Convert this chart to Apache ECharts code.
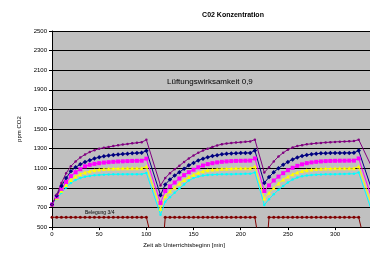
<!DOCTYPE html>
<html>
<head>
<meta charset="utf-8">
<script src="https://cdn.jsdelivr.net/npm/echarts@6/dist/echarts.min.js"></script>
<style>
  html, body { margin: 0; padding: 0; background: #fff; }
  #chart { width: 370px; height: 253px; }
</style>
</head>
<body>
<div id="chart"></div>
<script>
// Zeitpunkte [min] – Unterricht, Pause, Unterricht ...
const times = [
  0, 5, 10, 15, 20, 25, 30, 35, 40, 45, 50, 55, 60, 65, 70, 75, 80, 85, 90, 95, 100,
  115,
  120, 125, 130, 135, 140, 145, 150, 155, 160, 165, 170, 175, 180, 185, 190, 195, 200, 205, 210, 215,
  225,
  230, 235, 240, 245, 250, 255, 260, 265, 270, 275, 280, 285, 290, 295, 300, 305, 310, 315, 320, 325,
  340
];
const purpleVals = [
  730, 830, 950, 1050, 1120, 1170, 1210, 1240, 1265, 1285, 1300, 1310, 1318, 1326, 1334, 1342, 1348, 1354, 1360, 1366, 1390,
  925,
  1000, 1050, 1090, 1125, 1165, 1200, 1230, 1258, 1280, 1300, 1318, 1333, 1345, 1352, 1358, 1362, 1366, 1370, 1374, 1392,
  1057,
  1110, 1170, 1220, 1258, 1290, 1312, 1326, 1336, 1344, 1350, 1355, 1359, 1363, 1366, 1369, 1371, 1373, 1375, 1377, 1392,
  1090
];
const navyVals = [
  730, 820, 920, 1000, 1070, 1110, 1140, 1165, 1182, 1200, 1212, 1222, 1230, 1236, 1241, 1245, 1249, 1252, 1255, 1258, 1278,
  825,
  935, 985, 1025, 1060, 1095, 1130, 1155, 1180, 1198, 1212, 1224, 1234, 1242, 1248, 1251, 1253, 1255, 1256, 1257, 1280,
  950,
  1010, 1060, 1100, 1135, 1165, 1190, 1210, 1225, 1236, 1244, 1249, 1252, 1254, 1255, 1256, 1256, 1257, 1257, 1258, 1280,
  850
];
const magentaVals = [
  730, 810, 890, 960, 1020, 1060, 1090, 1120, 1135, 1145, 1152, 1158, 1162, 1166, 1169, 1171, 1173, 1175, 1176, 1177, 1198,
  746,
  868, 915, 955, 995, 1030, 1060, 1085, 1110, 1128, 1142, 1152, 1160, 1166, 1170, 1173, 1175, 1176, 1177, 1178, 1200,
  868,
  925, 975, 1015, 1050, 1080, 1105, 1125, 1140, 1152, 1160, 1166, 1170, 1173, 1175, 1176, 1177, 1177, 1178, 1178, 1200,
  760
];
const yellowVals = [
  730, 800, 870, 930, 980, 1015, 1040, 1058, 1070, 1080, 1087, 1092, 1095, 1097, 1098, 1099, 1100, 1100, 1100, 1100, 1117,
  686,
  818, 865, 905, 945, 980, 1010, 1035, 1055, 1070, 1080, 1087, 1091, 1094, 1096, 1098, 1099, 1100, 1100, 1100, 1117,
  792,
  850, 900, 945, 985, 1015, 1040, 1058, 1072, 1081, 1088, 1092, 1095, 1097, 1098, 1099, 1100, 1100, 1100, 1100, 1117,
  690
];
const cyanVals = [
  730, 790, 850, 905, 950, 980, 1000, 1013, 1022, 1028, 1032, 1035, 1037, 1038, 1039, 1040, 1040, 1040, 1040, 1040, 1052,
  627,
  759, 805, 850, 893, 935, 975, 1000, 1015, 1025, 1031, 1035, 1037, 1039, 1040, 1040, 1041, 1042, 1043, 1044, 1057,
  726,
  785, 835, 880, 920, 955, 985, 1005, 1018, 1026, 1031, 1035, 1037, 1039, 1040, 1040, 1041, 1042, 1043, 1044, 1057,
  630
];
// Belegung: 600 = Klasse anwesend, 0 = Pause
const occupancyVals = [
  600, 600, 600, 600, 600, 600, 600, 600, 600, 600, 600, 600, 600, 600, 600, 600, 600, 600, 600, 600, 600,
  0,
  600, 600, 600, 600, 600, 600, 600, 600, 600, 600, 600, 600, 600, 600, 600, 600, 600, 600, 600, 600,
  0,
  600, 600, 600, 600, 600, 600, 600, 600, 600, 600, 600, 600, 600, 600, 600, 600, 600, 600, 600, 600,
  0
];
const xTicks = [0, 50, 100, 150, 200, 250, 300];

function pairs(vals) {
  return times.map((t, i) => [t, vals[i]]);
}

const font = '"Liberation Sans", Arial, sans-serif';

function lineSeries(name, vals, color, symbol, size) {
  return {
    name: name,
    type: 'line',
    data: pairs(vals),
    symbol: symbol,
    symbolSize: size,
    showAllSymbol: true,
    lineStyle: { color: color, width: 1 },
    itemStyle: { color: color },
    emphasis: { disabled: true }
  };
}

const chart = echarts.init(document.getElementById('chart'));
const option = {
  animation: false,
  backgroundColor: '#ffffff',
  title: {
    text: 'C02 Konzentration',
    left: 228,
    top: 7,
    textAlign: 'center',
    textStyle: { fontFamily: font, fontSize: 7, fontWeight: 'bold', color: '#000' }
  },
  grid: {
    left: 52,
    right: 0,
    top: 31,
    bottom: 21,
    show: true,
    backgroundColor: '#c0c0c0',
    borderWidth: 0
  },
  xAxis: {
    type: 'value',
    min: 0,
    max: 337,
    interval: 50,
    name: 'Zeit ab Unterrichtsbeginn [min]',
    nameLocation: 'middle',
    nameGap: 14,
    nameTextStyle: { fontFamily: font, fontSize: 6, color: '#000', padding: [0, 54, 0, 0] },
    axisLine: { lineStyle: { color: '#000', width: 1 } },
    axisTick: { show: true, length: 3, lineStyle: { color: '#000' } },
    axisLabel: {
      fontFamily: font, fontSize: 6, color: '#000', margin: 4,
      showMaxLabel: false,
      formatter: v => (xTicks.indexOf(v) >= 0 ? String(v) : '')
    },
    splitLine: { show: false }
  },
  yAxis: {
    type: 'value',
    min: 500,
    max: 2500,
    interval: 200,
    name: 'ppm CO2',
    nameLocation: 'middle',
    nameGap: 20,
    nameRotate: 90,
    nameTextStyle: { fontFamily: font, fontSize: 6, color: '#000' },
    axisLine: { show: true, lineStyle: { color: '#000', width: 1 } },
    axisTick: { show: true, length: 3, lineStyle: { color: '#000' } },
    axisLabel: {
      fontFamily: font, fontSize: 6, color: '#000', margin: 5,
      formatter: v => String(v)
    },
    splitLine: { show: true, lineStyle: { color: '#000', width: 1 } }
  },
  graphic: [
    {
      type: 'text',
      left: 167,
      top: 78,
      style: { text: 'Lüftungswirksamkeit 0,9', font: '8px ' + font, fill: '#000' }
    },
    {
      type: 'text',
      left: 85,
      top: 210,
      style: { text: 'Belegung 3/4', font: '5px ' + font, fill: '#000' }
    }
  ],
  series: [
    lineSeries('Belegung', occupancyVals, '#800000', 'circle', 3),
    lineSeries('Serie 4', cyanVals, '#00ffff', 'circle', 2.5),
    lineSeries('Serie 3', yellowVals, '#ffff00', 'triangle', 4),
    lineSeries('Serie 2', magentaVals, '#ff00ff', 'rect', 4),
    lineSeries('Serie 1', navyVals, '#000080', 'diamond', 4.5),
    lineSeries('Serie 5', purpleVals, '#800080', 'circle', 2.5)
  ]
};
chart.setOption(option);
window.addEventListener('resize', function () {
  chart.resize();
});
</script>
</body>
</html>
